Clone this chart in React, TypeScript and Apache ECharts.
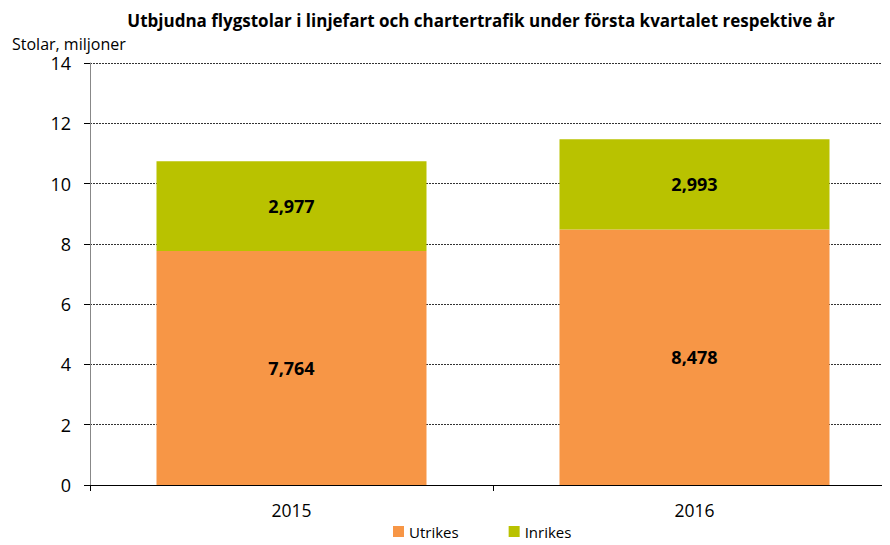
import React, { useEffect, useRef } from "react";
import * as echarts from "echarts";

const categories = ["2015", "2016"];
const utrikes = [7.764, 8.478];
const inrikes = [2.977, 2.993];
const yTicks = { min: 0, max: 14, interval: 2 };

const FONT = "'Open Sans', 'Liberation Sans', sans-serif";

export default function App() {
  const ref = useRef<HTMLDivElement>(null);
  useEffect(() => {
    if (!ref.current) return;
    const chart = echarts.init(ref.current, null, { renderer: "svg" });
    const label = {
      show: true,
      position: "inside",
      color: "#000",
      fontWeight: "bold",
      fontSize: 18,
      fontFamily: FONT,
      formatter: (p: any) => p.value.toFixed(3).replace(".", ","),
    };
    chart.setOption({
      animation: false,
      textStyle: { fontFamily: FONT },
      title: {
        text: "Utbjudna flygstolar i linjefart och chartertrafik under första kvartalet respektive år",
        left: 468,
        textAlign: "center",
        top: -1,
        textStyle: { fontSize: 17, fontWeight: "bold", color: "#000", fontFamily: FONT },
      },
      graphic: [
        {
          type: "text",
          x: 4,
          y: 36,
          style: {
            text: "Stolar, miljoner",
            fontSize: 16,
            fontFamily: FONT,
            fill: "#000",
            verticalAlign: "middle",
          },
        },
      ],
      legend: {
        top: 511,
        left: 380,
        itemWidth: 11,
        itemHeight: 11,
        itemGap: 50,
        icon: "rect",
        textStyle: { fontSize: 15, color: "#000", fontFamily: FONT },
        data: ["Utrikes", "Inrikes"],
      },
      grid: { left: 82, top: 55, width: 806, height: 422 },
      xAxis: {
        type: "category",
        data: categories,
        axisLine: { lineStyle: { color: "#000", width: 1 } },
        axisTick: { show: true, length: 6, lineStyle: { color: "#000" } },
        axisLabel: { fontSize: 17.5, color: "#000", margin: 16, fontFamily: FONT },
      },
      yAxis: {
        type: "value",
        min: yTicks.min,
        max: yTicks.max,
        interval: yTicks.interval,
        axisLine: { show: true, lineStyle: { color: "#888" } },
        axisTick: { show: true, length: 6, lineStyle: { color: "#000" } },
        axisLabel: { fontSize: 18, color: "#000", margin: 19, fontFamily: FONT },
        splitLine: { lineStyle: { color: "#333", type: [2, 1], width: 1 } },
      },
      series: [
        {
          name: "Utrikes",
          type: "bar",
          stack: "total",
          barWidth: "67%",
          data: utrikes,
          itemStyle: { color: "#F79646" },
          label,
        },
        {
          name: "Inrikes",
          type: "bar",
          stack: "total",
          data: inrikes,
          itemStyle: { color: "#B9C200" },
          label,
        },
      ],
    });
    return () => chart.dispose();
  }, []);
  return (
    <div style={{ width: 882, height: 537, overflow: "hidden" }}>
      <div ref={ref} style={{ width: 900, height: 537 }} />
    </div>
  );
}
